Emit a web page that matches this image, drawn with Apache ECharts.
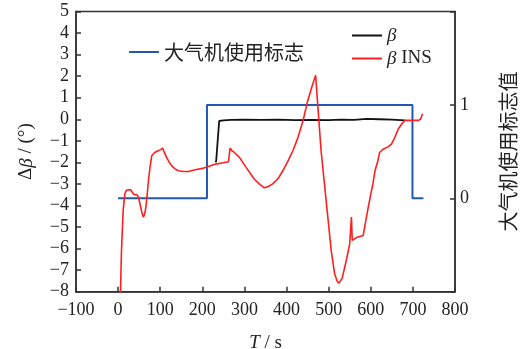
<!DOCTYPE html>
<html>
<head>
<meta charset="utf-8">
<script src="https://cdn.jsdelivr.net/npm/echarts@6/dist/echarts.min.js"></script>
<style>
  html, body { margin: 0; padding: 0; background: #fff; }
  #chart { width: 523px; height: 349px; }
</style>
</head>
<body>
<div id="chart"></div>
<script>
// Air-data usage flag (right axis, 0/1)
const flagTime  = [0, 211, 211, 699, 699, 725];
const flagValue = [0, 0, 1, 1, 0, 0];

// Sideslip angle error from air data, β (left axis, degrees)
const betaTime  = [232, 233, 240, 250, 268, 300, 340, 380, 420, 460, 500, 530, 560, 590, 620, 650, 681];
const betaValue = [-2.0, -1.9, -0.08, -0.05, -0.03, -0.02, -0.03, -0.02, -0.04, -0.03, -0.04, -0.02, -0.03, 0.02, 0.0, -0.02, -0.05];

// Sideslip angle error from INS, β INS (left axis, degrees)
const insTime = [5, 8, 12, 16, 20, 24, 30, 34, 38, 44, 48, 52, 56, 60, 63, 66, 69, 72, 76, 80,
  87, 95, 100, 106, 110, 115, 121, 127, 135, 143, 155, 167, 183, 200, 216, 232, 250, 262, 266, 270,
  276, 288, 304, 323, 335, 347, 357, 367, 380, 391, 403, 415, 427, 439, 450, 460, 469, 474, 482, 490,
  498, 506, 514, 520, 524, 532, 542, 550, 554, 556, 566, 582, 594, 605, 610, 617, 621, 629, 641, 649,
  657, 665, 673, 681, 700, 713, 718, 723];
const insValue = [-8.5, -6.1, -4.23, -3.46, -3.28, -3.23, -3.27, -3.4, -3.5, -3.49, -3.6, -3.92, -4.3, -4.54, -4.4, -4.08, -3.5, -2.85, -2.2, -1.69,
  -1.54, -1.46, -1.42, -1.34, -1.55, -1.77, -1.98, -2.15, -2.3, -2.39, -2.42, -2.42, -2.34, -2.28, -2.18, -2.08, -2.02, -1.97, -1.34, -1.45,
  -1.54, -1.77, -2.23, -2.77, -3.0, -3.18, -3.12, -3.0, -2.75, -2.39, -1.95, -1.46, -0.85, -0.08, 0.84, 1.5, 2.04, 0.69, -1.46, -3.0,
  -4.54, -6.08, -7.15, -7.5, -7.61, -7.38, -6.54, -5.77, -4.54, -5.62, -5.49, -5.39, -4.08, -3.0, -2.39, -1.92, -1.54, -1.39, -1.28, -1.15,
  -0.85, -0.46, -0.23, -0.05, -0.05, -0.05, 0.0, 0.26];

// Axis ranges and the labelled flag values
const xRange = [-100, 800];
const yRange = [-8, 5];
const flagRange = [-1, 2];
const flagTicks = [0, 1];

const zip = (xs, ys) => xs.map((x, i) => [x, ys[i]]);
const minus = v => String(v).replace('-', '\u2212');

const serif = '"Liberation Serif", "Times New Roman", serif';
const cjk = '"Noto Sans CJK SC", sans-serif';
const axisColor = '#333';

const chart = echarts.init(document.getElementById('chart'), null, { renderer: 'canvas' });

chart.setOption({
  animation: false,
  backgroundColor: '#fff',
  grid: {
    left: 76, right: 68, top: 11.5, bottom: 57.3,
    outerBoundsMode: 'none', containLabel: false,
    show: true, borderColor: axisColor, borderWidth: 1.5, backgroundColor: 'transparent'
  },
  legend: [
    {
      data: ['大气机使用标志'],
      left: 124, top: 37,
      icon: 'rect', itemWidth: 30, itemHeight: 2,
      textStyle: { fontFamily: cjk, fontSize: 20, color: '#222' }
    },
    {
      data: ['β', 'β INS'],
      orient: 'vertical',
      left: 347, top: 21, itemGap: 4,
      icon: 'rect', itemWidth: 30, itemHeight: 2,
      formatter: name => name === 'β' ? '{i|β}' : '{i|β} INS',
      textStyle: {
        fontFamily: serif, fontSize: 19, color: '#222',
        rich: { i: { fontFamily: serif, fontStyle: 'italic', fontSize: 19, color: '#222' } }
      }
    }
  ],
  xAxis: {
    type: 'value', min: xRange[0], max: xRange[1], interval: 100,
    name: '{i|T} / s', nameLocation: 'middle', nameGap: 42,
    nameTextStyle: {
      fontFamily: serif, fontSize: 19, color: '#222',
      rich: { i: { fontFamily: serif, fontStyle: 'italic', fontSize: 19, color: '#222' } }
    },
    axisLine: { show: true, onZero: false, lineStyle: { color: axisColor, width: 1.5 } },
    axisTick: { show: true, inside: true, length: 5, lineStyle: { color: axisColor, width: 1.5 } },
    axisLabel: { fontFamily: serif, fontSize: 18, color: '#222', margin: 10, formatter: minus },
    splitLine: { show: false }
  },
  yAxis: [
    {
      type: 'value', min: yRange[0], max: yRange[1], interval: 1,
      name: 'Δ{i|β} / (°)', nameLocation: 'middle', nameGap: 40, nameRotate: 90,
      nameTextStyle: {
        fontFamily: serif, fontSize: 19, color: '#222',
        rich: { i: { fontFamily: serif, fontStyle: 'italic', fontSize: 19, color: '#222' } }
      },
      axisLine: { show: true, onZero: false, lineStyle: { color: axisColor, width: 1.5 } },
      axisTick: { show: true, inside: true, length: 5, lineStyle: { color: axisColor, width: 1.5 } },
      axisLabel: { fontFamily: serif, fontSize: 18, color: '#222', margin: 7, formatter: minus },
      splitLine: { show: false }
    },
    {
      type: 'value', position: 'right', min: flagRange[0], max: flagRange[1], interval: 1,
      name: '大气机使用标志值', nameLocation: 'middle', nameGap: 43, nameRotate: 90,
      nameTextStyle: { fontFamily: cjk, fontSize: 20, color: '#222' },
      axisLine: { show: true, onZero: false, lineStyle: { color: axisColor, width: 1.5 } },
      axisTick: { show: true, inside: true, length: 5, lineStyle: { color: axisColor, width: 1.5 } },
      axisLabel: {
        fontFamily: serif, fontSize: 18, color: '#222', margin: 5,
        formatter: v => flagTicks.includes(v) ? String(v) : ''
      },
      splitLine: { show: false }
    }
  ],
  series: [
    {
      name: '大气机使用标志', type: 'line', yAxisIndex: 1,
      data: zip(flagTime, flagValue), showSymbol: false,
      lineStyle: { color: '#2257b3', width: 2 }, itemStyle: { color: '#2257b3' }, z: 2
    },
    {
      name: 'β', type: 'line', yAxisIndex: 0,
      data: zip(betaTime, betaValue), showSymbol: false,
      lineStyle: { color: '#111', width: 1.8 }, itemStyle: { color: '#111' }, z: 3
    },
    {
      name: 'β INS', type: 'line', yAxisIndex: 0,
      data: zip(insTime, insValue), showSymbol: false, clip: true,
      lineStyle: { color: '#ff1f1f', width: 1.6 }, itemStyle: { color: '#ff1f1f' }, z: 4
    }
  ]
});
</script>
</body>
</html>
